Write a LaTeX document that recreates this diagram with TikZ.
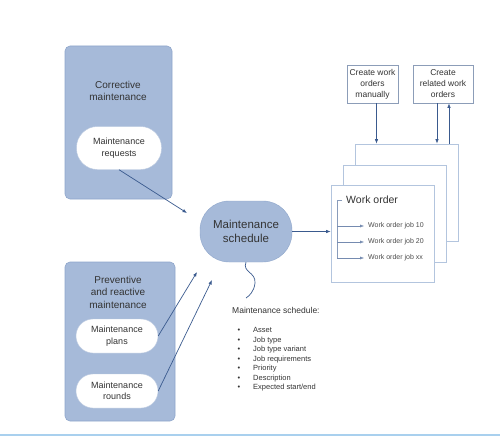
\documentclass[tikz,border=0pt]{standalone}
\usepackage{fontspec}
\setmainfont{Liberation Sans}
\usetikzlibrary{arrows.meta,positioning,calc}
\definecolor{groupblue}{HTML}{A6BAD9}
\definecolor{groupedge}{HTML}{8FA6CB}
\definecolor{flowblue}{HTML}{3A5A8E}
\definecolor{orderedge}{HTML}{B3C5DE}
\definecolor{createedge}{HTML}{8C9DB8}
\definecolor{darktext}{HTML}{333333}
\definecolor{footerblue}{HTML}{A9D0EE}

\begin{document}
\begin{tikzpicture}[
    x=1pt, y=-1pt,
    every node/.style={text=darktext, inner sep=0pt},
    groupbox/.style={rectangle, draw=groupedge, fill=groupblue,
                     rounded corners=5pt, line width=0.6pt},
    grouptitle/.style={font=\fontsize{10}{12.5}\selectfont, align=center},
    stadium/.style={rectangle, draw=groupedge!60, fill=white, rounded corners=17pt,
                    minimum width=82pt, minimum height=34pt, align=center,
                    font=\fontsize{9}{11.5}\selectfont},
    schedulebox/.style={rectangle, draw=groupedge, fill=groupblue, rounded corners=29pt,
                        minimum width=92pt, minimum height=61pt, align=center,
                        font=\fontsize{11.5}{14.5}\selectfont},
    orderbox/.style={rectangle, draw=orderedge, fill=white, line width=0.8pt,
                     minimum width=103pt, minimum height=97pt},
    createbox/.style={rectangle, draw=createedge, fill=white, line width=0.6pt,
                      minimum height=38pt, align=center,
                      font=\fontsize{8.5}{11}\selectfont},
    joblabel/.style={anchor=west, font=\fontsize{7}{8}\selectfont, text=black!70},
    flowarrow/.style={draw=flowblue, line width=0.7pt,
                      -{Latex[length=4.5pt,width=3.5pt]}},
    thinarrow/.style={draw=flowblue!70, line width=0.4pt,
                      -{Latex[length=4pt,width=3pt]}},
]
\useasboundingbox (0,0) rectangle (500,436);

% Maintenance sources
\node[groupbox, minimum width=107pt, minimum height=153pt] (corrective) at (118.5,122.5) {};
\node[grouptitle] (correctivetitle) at (118,91) {Corrective\\maintenance};
\node[stadium, minimum height=43pt, minimum width=85pt, rounded corners=21pt] (requests) at (119,148) {Maintenance\\requests};

\node[groupbox, minimum width=110pt, minimum height=159pt] (preventive) at (120,341.5) {};
\node[grouptitle] (preventivetitle) at (118,292) {Preventive\\and reactive\\maintenance};
\node[stadium] (plans) at (117,336) {Maintenance\\plans};
\node[stadium] (rounds) at (117,391) {Maintenance\\rounds};

% Schedule
\node[schedulebox] (schedule) at (246,231.5) {Maintenance\\schedule};

\coordinate (requesttip) at (187,213);
\coordinate (planstip) at (197,272);
\coordinate (roundstip) at (212,280);
\draw[flowarrow] (requests.south) -- (requesttip);
\draw[flowarrow] (plans.east) -- (planstip);
\draw[flowarrow] (rounds.east) -- (roundstip);

% Work orders, back to front
\node[orderbox] (order3) at (406.5,192.5) {};
\node[orderbox] (order2) at (394.5,213.5) {};
\node[orderbox] (order1) at (382.5,233.5) {};

\node[createbox, minimum width=51pt] (manual) at (372.5,84) {Create work\\orders\\manually};
\node[createbox, minimum width=60pt] (related) at (443,84) {Create\\related work\\orders};

\draw[flowarrow] ([xshift=4pt]manual.south) -- ([xshift=4pt]manual.south |- order3.north);
\draw[flowarrow] ([xshift=-6pt]related.south) -- ([xshift=-6pt]related.south |- order3.north);
\draw[flowarrow] ([xshift=6pt]related.south |- order3.north) -- ([xshift=6pt]related.south);

\draw[flowarrow] (schedule.east) -- (schedule.east -| order1.west);

% Work order jobs
\node[anchor=west, font=\fontsize{10.5}{12}\selectfont] (ordertitle) at (346,200) {Work order};
\coordinate (bracket) at (337,200);
\node[joblabel] (job1) at (368,226) {Work order job 10};
\node[joblabel] (job2) at (368,242) {Work order job 20};
\node[joblabel] (job3) at (368,258) {Work order job xx};
\draw[flowblue!60, line width=0.4pt] ([xshift=5pt]bracket) -- (bracket) -- (bracket |- job3.west);
\draw[thinarrow] (bracket |- job1.west) -- ([xshift=-4pt]job1.west);
\draw[thinarrow] (bracket |- job2.west) -- ([xshift=-4pt]job2.west);
\draw[thinarrow] (bracket |- job3.west) -- ([xshift=-4pt]job3.west);

% Schedule fields
\draw[flowblue, line width=0.7pt] (schedule.south) .. controls +(-4,10) and (256,272) .. (255,283)
    .. controls (254,292) and (249,296) .. (246,298);
\node[anchor=west, font=\fontsize{8.5}{10}\selectfont] (fieldhead) at (232,310) {Maintenance schedule:};
\node[anchor=north west, align=left, font=\fontsize{7.5}{9.5}\selectfont] (fields) at (237.5,327.5)
  {\makebox[15.5pt][l]{\textbullet}Asset\\
   \makebox[15.5pt][l]{\textbullet}Job type\\
   \makebox[15.5pt][l]{\textbullet}Job type variant\\
   \makebox[15.5pt][l]{\textbullet}Job requirements\\
   \makebox[15.5pt][l]{\textbullet}Priority\\
   \makebox[15.5pt][l]{\textbullet}Description\\
   \makebox[15.5pt][l]{\textbullet}Expected start/end};

% Footer rule
\draw[footerblue, line width=2pt] (0,435) -- (500,435);
\end{tikzpicture}
\end{document}
